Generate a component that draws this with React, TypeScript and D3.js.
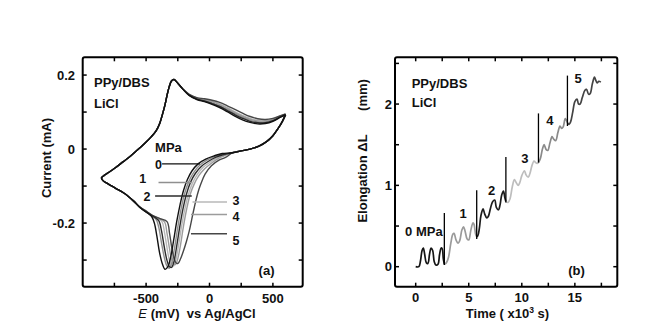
import React from 'react';
import * as d3 from 'd3';

const W = 653;
const H = 331;

// ---------- Panel (a): cyclic voltammograms (E in mV, I in mA) ----------
const pressureLabels = ['0', '1', '2', '3', '4', '5'];
const cvColors = ['#111111', '#8f8f8f', '#2b2b2b', '#b8b8b8', '#9c9c9c', '#474747'];

// upper branch near the right vertex, read at these potentials
const shoulderE = [600, 560, 500, 440, 380, 320, 260, 200, 140, 80, 20, -40, -100, -160];
const shoulderI0 = [0.093, 0.086, 0.075, 0.069, 0.068, 0.072, 0.079, 0.089, 0.101, 0.112, 0.121, 0.128, 0.134, 0.145];
const shoulderI1 = [0.093, 0.087, 0.078, 0.073, 0.073, 0.078, 0.086, 0.096, 0.107, 0.117, 0.125, 0.131, 0.136, 0.146];
const shoulderI2 = [0.093, 0.087, 0.077, 0.071, 0.071, 0.075, 0.083, 0.093, 0.104, 0.115, 0.123, 0.13, 0.135, 0.145];
const shoulderI3 = [0.094, 0.089, 0.081, 0.077, 0.078, 0.083, 0.091, 0.101, 0.112, 0.122, 0.129, 0.134, 0.138, 0.147];
const shoulderI4 = [0.094, 0.089, 0.08, 0.076, 0.076, 0.081, 0.089, 0.099, 0.11, 0.12, 0.128, 0.133, 0.137, 0.147];
const shoulderI5 = [0.095, 0.09, 0.083, 0.08, 0.082, 0.088, 0.097, 0.107, 0.117, 0.126, 0.132, 0.136, 0.139, 0.148];

// common part: oxidation peak, left vertex, start of the cathodic shelf
const cvCommon: [number, number][] = [
  [-210, 0.162], [-250, 0.178], [-280, 0.188], [-300, 0.184], [-318, 0.168], [-335, 0.145],
  [-352, 0.118], [-370, 0.095], [-392, 0.07], [-420, 0.05], [-460, 0.033], [-510, 0.016],
  [-560, 0.0], [-620, -0.018], [-680, -0.034], [-740, -0.05], [-790, -0.062], [-830, -0.071],
  [-852, -0.078], [-838, -0.086], [-800, -0.094], [-740, -0.106], [-670, -0.12], [-600, -0.14],
  [-550, -0.157],
];

// reduction peak region, one per pressure
const cvReduction0: [number, number][] = [
  [-510, -0.168], [-480, -0.175], [-455, -0.183], [-435, -0.2], [-415, -0.235], [-395, -0.278],
  [-372, -0.31], [-350, -0.325], [-328, -0.318], [-305, -0.29], [-282, -0.245], [-258, -0.195],
  [-232, -0.15], [-205, -0.112], [-175, -0.083], [-140, -0.06], [-90, -0.04], [-30, -0.027],
  [40, -0.018], [100, -0.012],
];
const cvReduction1: [number, number][] = [
  [-510, -0.168], [-470, -0.177], [-440, -0.184], [-418, -0.192], [-398, -0.215], [-378, -0.255],
  [-357, -0.292], [-336, -0.316], [-318, -0.322], [-298, -0.308], [-276, -0.268], [-252, -0.215],
  [-226, -0.165], [-198, -0.122], [-166, -0.09], [-128, -0.065], [-78, -0.044], [-20, -0.03],
  [45, -0.02], [100, -0.014],
];
const cvReduction2: [number, number][] = [
  [-510, -0.167], [-465, -0.178], [-425, -0.186], [-398, -0.195], [-378, -0.222], [-358, -0.262],
  [-338, -0.297], [-318, -0.317], [-300, -0.32], [-281, -0.305], [-260, -0.265], [-236, -0.213],
  [-210, -0.163], [-182, -0.122], [-150, -0.09], [-112, -0.066], [-65, -0.047], [-8, -0.033],
  [52, -0.022], [100, -0.016],
];
const cvReduction3: [number, number][] = [
  [-510, -0.166], [-460, -0.178], [-410, -0.187], [-375, -0.196], [-355, -0.225], [-336, -0.265],
  [-318, -0.298], [-300, -0.314], [-284, -0.316], [-266, -0.3], [-245, -0.262], [-221, -0.21],
  [-195, -0.163], [-166, -0.122], [-134, -0.092], [-97, -0.069], [-52, -0.05], [2, -0.036],
  [60, -0.024], [105, -0.018],
];
const cvReduction4: [number, number][] = [
  [-510, -0.166], [-455, -0.179], [-400, -0.188], [-355, -0.197], [-335, -0.228], [-316, -0.268],
  [-300, -0.297], [-284, -0.31], [-268, -0.312], [-250, -0.296], [-228, -0.258], [-205, -0.208],
  [-180, -0.162], [-152, -0.122], [-120, -0.094], [-84, -0.072], [-40, -0.054], [12, -0.039],
  [68, -0.026], [110, -0.019],
];
const cvReduction5: [number, number][] = [
  [-510, -0.165], [-450, -0.179], [-390, -0.188], [-335, -0.196], [-315, -0.228], [-297, -0.268],
  [-280, -0.295], [-264, -0.308], [-248, -0.309], [-230, -0.298], [-205, -0.275], [-182, -0.25],
  [-160, -0.222], [-140, -0.19], [-120, -0.158], [-95, -0.122], [-68, -0.094], [-35, -0.068],
  [15, -0.045], [75, -0.03], [130, -0.022],
];

// lower branch back to the right vertex
const cvLowerRight: [number, number][] = [
  [180, -0.01], [250, -0.005], [320, 0.0], [390, 0.008], [450, 0.02], [500, 0.036],
  [540, 0.055], [575, 0.075], [600, 0.093],
];

const shoulderSets = [shoulderI0, shoulderI1, shoulderI2, shoulderI3, shoulderI4, shoulderI5];
const reductionSets = [cvReduction0, cvReduction1, cvReduction2, cvReduction3, cvReduction4, cvReduction5];

const cvXTicks = [-750, -500, -250, 0, 250, 500];
const cvXLabels = [-500, 0, 500];
const cvYTicks = [-0.3, -0.2, -0.1, 0, 0.1, 0.2];
const cvYLabels = [-0.2, 0, 0.2];

// ---------- Panel (b): elongation vs time (x10^3 s, mm) ----------
const pressureNames = ['0 MPa', '1', '2', '3', '4', '5'];
const elongColors = ['#141414', '#9a9a9a', '#1c1c1c', '#bdbdbd', '#8a8a8a', '#444444'];
const elong0: [number, number][] = [
  [0, 0.0], [0.3, 0.0], [0.45, 0.07], [0.6, 0.2], [0.72, 0.23], [0.85, 0.15], [1.0, 0.05],
  [1.15, 0.04], [1.3, 0.15], [1.45, 0.23], [1.6, 0.2], [1.75, 0.06], [1.9, 0.02], [2.1, 0.03],
  [2.25, 0.15], [2.4, 0.23], [2.5, 0.22], [2.6, 0.1], [2.7, 0.03],
];
const elong1: [number, number][] = [
  [2.7, 0.03], [2.9, 0.05], [3.1, 0.12], [3.3, 0.28], [3.5, 0.4], [3.62, 0.41], [3.8, 0.33],
  [4.0, 0.29], [4.15, 0.32], [4.35, 0.45], [4.5, 0.49], [4.65, 0.44], [4.85, 0.34], [5.0, 0.33],
  [5.2, 0.45], [5.4, 0.54], [5.5, 0.52], [5.65, 0.4], [5.75, 0.37],
];
const elong2: [number, number][] = [
  [5.75, 0.37], [5.85, 0.38], [6.0, 0.47], [6.15, 0.63], [6.35, 0.71], [6.5, 0.65], [6.7, 0.6],
  [6.85, 0.62], [7.05, 0.72], [7.25, 0.8], [7.45, 0.82], [7.6, 0.73], [7.8, 0.7], [7.95, 0.76],
  [8.1, 0.88], [8.27, 0.93], [8.4, 0.85], [8.5, 0.8],
];
const elong3: [number, number][] = [
  [8.5, 0.8], [8.7, 0.79], [8.9, 0.84], [9.1, 0.98], [9.3, 1.07], [9.45, 1.04], [9.65, 1.0],
  [9.8, 1.03], [10.0, 1.12], [10.25, 1.18], [10.4, 1.13], [10.6, 1.1], [10.75, 1.14],
  [10.95, 1.24], [11.15, 1.3], [11.3, 1.28], [11.45, 1.27], [11.57, 1.28],
];
const elong4: [number, number][] = [
  [11.57, 1.28], [11.75, 1.33], [11.95, 1.45], [12.1, 1.5], [12.3, 1.44], [12.45, 1.43],
  [12.65, 1.52], [12.85, 1.6], [13.0, 1.57], [13.2, 1.55], [13.4, 1.65], [13.6, 1.73],
  [13.75, 1.7], [13.9, 1.72], [14.1, 1.82], [14.3, 1.77],
];
const elong5: [number, number][] = [
  [14.3, 1.77], [14.45, 1.75], [14.6, 1.78], [14.8, 1.9], [15.0, 2.03], [15.2, 2.06],
  [15.35, 2.0], [15.5, 2.0], [15.7, 2.08], [15.95, 2.17], [16.1, 2.18], [16.3, 2.12],
  [16.45, 2.13], [16.65, 2.25], [16.85, 2.33], [16.95, 2.3], [17.1, 2.26], [17.25, 2.28],
  [17.45, 2.27],
];
const elongSets = [elong0, elong1, elong2, elong3, elong4, elong5];
// pressure change markers: time, bottom, top
const stepTimes = [2.7, 5.75, 8.5, 11.57, 14.3];
const stepBottoms = [0.02, 0.34, 0.79, 1.28, 1.73];
const stepTops = [0.66, 0.94, 1.35, 1.885, 2.35];

const tXTicks = [0, 2.5, 5, 7.5, 10, 12.5, 15, 17.5];
const tXLabels = [0, 5, 10, 15];
const tYTicks = [0, 0.5, 1, 1.5, 2, 2.5];
const tYLabels = [0, 1, 2];

const FONT = "'Liberation Sans', Arial, sans-serif";
const TICK = 4;

function Frame({ x0, x1, y0, y1 }: { x0: number; x1: number; y0: number; y1: number }) {
  return <rect x={x0} y={y0} width={x1 - x0} height={y1 - y0} rx={2} fill="none" stroke="#000" strokeWidth={2} />;
}

export default function App() {
  // panel a scales
  const ax = d3.scaleLinear().domain([-1000, 735]).range([82.7, 302.7]);
  const ay = d3.scaleLinear().domain([-0.372, 0.248]).range([286.7, 57.3]);
  // panel b scales
  const bx = d3.scaleLinear().domain([-1.95, 19.0]).range([395, 617.3]);
  const by = d3.scaleLinear().domain([-0.246, 2.575]).range([286.7, 57.3]);

  const cvLine = d3
    .line<[number, number]>()
    .x((d) => ax(d[0]))
    .y((d) => ay(d[1]))
    .curve(d3.curveCatmullRom.alpha(0.5));

  const elLine = d3
    .line<[number, number]>()
    .x((d) => bx(d[0]))
    .y((d) => by(d[1]))
    .curve(d3.curveCatmullRom.alpha(0.5));

  const loops = shoulderSets.map((si, k) => {
    const upper: [number, number][] = shoulderE.map((e, i) => [e, si[i]]);
    return [...upper, ...cvCommon, ...reductionSets[k], ...cvLowerRight];
  });
  const drawOrder = [3, 4, 1, 5, 2, 0];

  const [aL, aR] = ax.range();
  const [aB, aT] = ay.range();
  const [bL, bR] = bx.range();
  const [bB, bT] = by.range();

  const txt = { fontFamily: FONT, fontWeight: 700, fontSize: 13, fill: '#111' } as const;

  // annotation anchors (data coordinates)
  const cvLeaders: [number, number, number][] = [
    [-374, -75, -0.04],
    [-402, -140, -0.0905],
    [-429, -140, -0.127],
    [-134, 138, -0.143],
    [-146, 138, -0.177],
    [-146, 138, -0.229],
  ];
  const cvLabelPos: [number, number][] = [
    [-403, -0.041],
    [-526, -0.079],
    [-494, -0.128],
    [209, -0.139],
    [209, -0.183],
    [209, -0.246],
  ];
  const elLabelPos: [number, number][] = [
    [-1.0, 0.43],
    [4.48, 0.656],
    [7.16, 0.943],
    [10.29, 1.336],
    [12.65, 1.803],
    [15.31, 2.316],
  ];

  return (
    <svg width={W} height={H} style={{ position: 'absolute', left: 0, top: 0, background: '#fff' }}>
      <rect x={0} y={0} width={W} height={H} fill="#fff" />

      {/* ===== Panel (a) ===== */}
      <g>
        {drawOrder.map((k) => (
          <path key={k} d={cvLine(loops[k]) || ''} fill="none" stroke={cvColors[k]} strokeWidth={1.4} strokeLinejoin="round" />
        ))}
        {cvLeaders.map((l, k) => (
          <line key={k} x1={ax(l[0])} x2={ax(l[1])} y1={ay(l[2])} y2={ay(l[2])} stroke={cvColors[k]} strokeWidth={1.4} />
        ))}
        {cvLabelPos.map((p, k) => (
          <text key={k} x={ax(p[0])} y={ay(p[1]) + 4.5} textAnchor="middle" {...txt} fontSize={12.5}>
            {pressureLabels[k]}
          </text>
        ))}
        <text x={ax(-324)} y={ay(0.004) + 4.7} textAnchor="middle" {...txt}>MPa</text>
        <text x={aL + 11.3} y={86.5} {...txt}>PPy/DBS</text>
        <text x={aL + 11.3} y={108} {...txt}>LiCl</text>
        <text x={ax(450)} y={ay(-0.328) + 4.7} textAnchor="middle" {...txt}>(a)</text>

        <Frame x0={aL} x1={aR} y0={aT} y1={aB} />
        {cvXTicks.map((t) => (
          <g key={t}>
            <line x1={ax(t)} x2={ax(t)} y1={aB} y2={aB - TICK} stroke="#000" strokeWidth={1.5} />
            <line x1={ax(t)} x2={ax(t)} y1={aT} y2={aT + TICK} stroke="#000" strokeWidth={1.5} />
          </g>
        ))}
        {cvYTicks.map((t) => (
          <g key={t}>
            <line x1={aL} x2={aL + TICK} y1={ay(t)} y2={ay(t)} stroke="#000" strokeWidth={1.5} />
            <line x1={aR} x2={aR - TICK} y1={ay(t)} y2={ay(t)} stroke="#000" strokeWidth={1.5} />
          </g>
        ))}
        {cvXLabels.map((t) => (
          <text key={t} x={ax(t)} y={303} textAnchor="middle" {...txt}>{t}</text>
        ))}
        {cvYLabels.map((t) => (
          <text key={t} x={75} y={ay(t) + 4.7} textAnchor="end" {...txt}>{t === 0 ? '0' : t.toFixed(1)}</text>
        ))}
        <text x={51} y={158} transform="rotate(-90 51 158)" textAnchor="middle" {...txt}>Current (mA)</text>
        <text x={197} y={318} textAnchor="middle" {...txt} style={{ whiteSpace: 'pre' }}>
          <tspan fontStyle="italic" fontWeight={400}>E</tspan>
          <tspan>{' (mV)  vs Ag/AgCl'}</tspan>
        </text>
      </g>

      {/* ===== Panel (b) ===== */}
      <g>
        {elongSets.map((s, k) => (
          <path key={k} d={elLine(s) || ''} fill="none" stroke={elongColors[k]} strokeWidth={1.7} strokeLinejoin="round" />
        ))}
        {stepTimes.map((t, k) => (
          <line key={k} x1={bx(t)} x2={bx(t)} y1={by(stepBottoms[k])} y2={by(stepTops[k])} stroke="#000" strokeWidth={1.3} />
        ))}
        {elLabelPos.map((p, k) => (
          <text key={k} x={bx(p[0])} y={by(p[1]) + 4.7} textAnchor={k === 0 ? 'start' : 'middle'} {...txt}>
            {pressureNames[k]}
          </text>
        ))}
        <text x={bL + 16.7} y={88} {...txt}>PPy/DBS</text>
        <text x={bL + 16.7} y={106.5} {...txt}>LiCl</text>
        <text x={bx(15.16)} y={by(-0.04) + 4.7} textAnchor="middle" {...txt}>(b)</text>

        <Frame x0={bL} x1={bR} y0={bT} y1={bB} />
        {tXTicks.map((t) => (
          <g key={t}>
            <line x1={bx(t)} x2={bx(t)} y1={bB} y2={bB - TICK} stroke="#000" strokeWidth={1.5} />
            <line x1={bx(t)} x2={bx(t)} y1={bT} y2={bT + TICK} stroke="#000" strokeWidth={1.5} />
          </g>
        ))}
        {tYTicks.map((t) => (
          <g key={t}>
            <line x1={bL} x2={bL + TICK} y1={by(t)} y2={by(t)} stroke="#000" strokeWidth={1.5} />
            <line x1={bR} x2={bR - TICK} y1={by(t)} y2={by(t)} stroke="#000" strokeWidth={1.5} />
          </g>
        ))}
        {tXLabels.map((t) => (
          <text key={t} x={bx(t)} y={302} textAnchor="middle" {...txt}>{t}</text>
        ))}
        {tYLabels.map((t) => (
          <text key={t} x={392} y={by(t) + 4.7} textAnchor="end" {...txt}>{t}</text>
        ))}
        <g transform="translate(367 0) rotate(-90)" {...txt}>
          <text x={-189} y={0} textAnchor="middle">Elongation</text>
          <text x={-143} y={0} textAnchor="middle">ΔL</text>
          <text x={-95} y={0} textAnchor="middle">(mm)</text>
        </g>
        <text x={507.5} y={318} textAnchor="middle" {...txt} style={{ whiteSpace: 'pre' }}>
          <tspan>{'Time ( x10'}</tspan>
          <tspan dy={-5} fontSize={8.5}>3</tspan>
          <tspan dy={5}>{' s)'}</tspan>
        </text>
      </g>
    </svg>
  );
}
